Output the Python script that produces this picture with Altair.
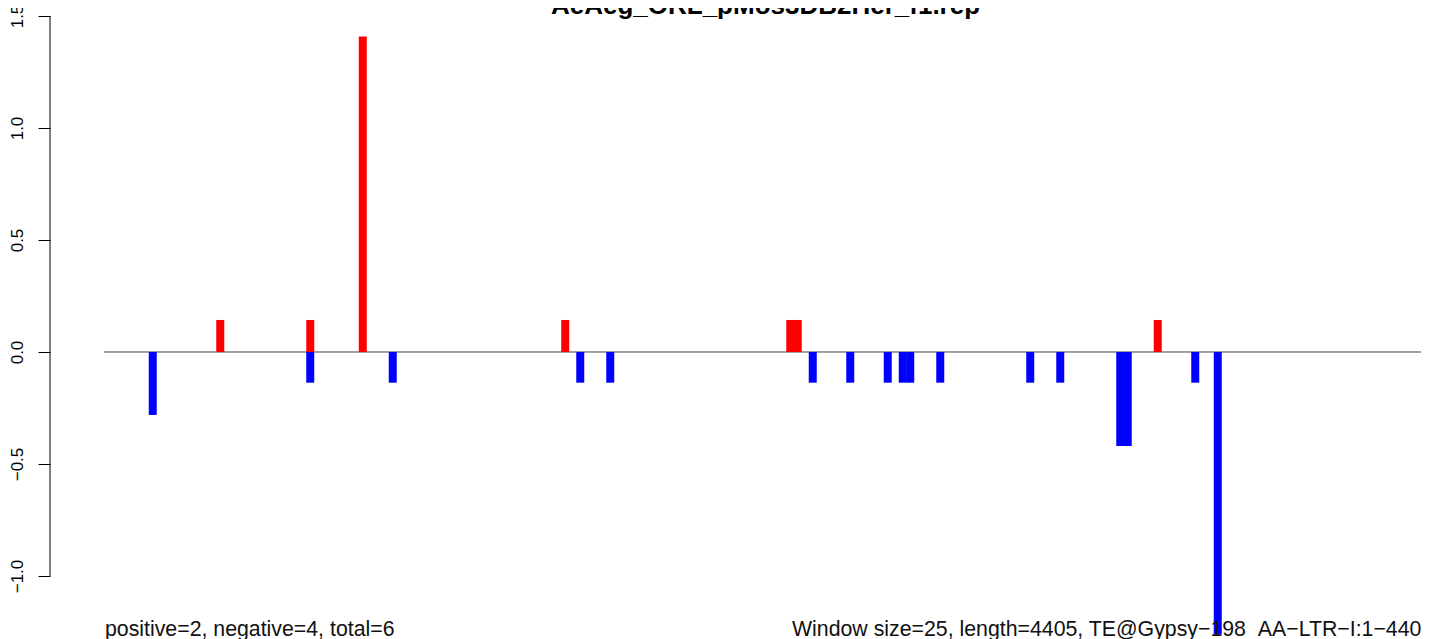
import altair as alt
import pandas as pd

# ---- data ----
title_text = "AeAeg_ORL_pMos3DB2Her_f1.rep"
left_note = "positive=2, negative=4, total=6"
right_note = "Window size=25, length=4405, TE@Gypsy\u2212198_AA\u2212LTR\u2212I:1\u22124405"
window_size = 25
te_length = 4405

bar_window = [6, 15, 27, 27, 34, 38, 61, 63, 67, 91, 92, 94, 99, 104, 106,
              107, 111, 123, 127, 135, 136, 140, 145, 148]
bar_value = [-0.281, 0.143, 0.143, -0.137, 1.408, -0.137, 0.143, -0.137,
             -0.137, 0.143, 0.143, -0.137, -0.137, -0.137, -0.137, -0.137,
             -0.137, -0.137, -0.137, -0.42, -0.42, 0.143, -0.137, -1.26]
y_ticks = [-1.0, -0.5, 0.0, 0.5, 1.0, 1.5]

# ---- scales (plot area layout) ----
X_MIN, X_MAX = -7.2, 175.6
Y_MIN, Y_MAX = -1.2768, 1.5357
W, H = 1371, 630

bars = pd.DataFrame({
    "x": [w + 0.5 for w in bar_window],
    "v": bar_value,
    "zero": [0.0] * len(bar_value),
    "sign": ["pos" if v > 0 else "neg" for v in bar_value],
})

xs = alt.Scale(domain=[X_MIN, X_MAX], nice=False, zero=False)
ys = alt.Scale(domain=[Y_MIN, Y_MAX], nice=False, zero=False)

bar_layer = alt.Chart(bars).mark_rule(strokeWidth=8, strokeCap="butt").encode(
    x=alt.X("x:Q", scale=xs, axis=None),
    y=alt.Y("v:Q", scale=ys, axis=alt.Axis(
        values=y_ticks, format=".1f", domain=False, grid=False,
        tickSize=12, tickColor="black", tickWidth=1,
        labelAngle=270, labelAlign="center", labelBaseline="alphabetic",
        labelPadding=15.5, labelFontSize=17, labelColor="black",
        labelFont="Liberation Sans", labelFlush=False, labelOverlap=False,
        labelBound=False, title=None)),
    y2="zero:Q",
    color=alt.Color("sign:N", scale=alt.Scale(domain=["pos", "neg"],
                                               range=["#FF0000", "#0000FF"]),
                    legend=None),
)

zero_df = pd.DataFrame({"x": [0.0], "x2": [X_MAX], "y": [0.0]})
zero_line = alt.Chart(zero_df).mark_rule(color="#444444", strokeWidth=1).encode(
    x=alt.X("x:Q", scale=xs, axis=None),
    x2="x2:Q",
    y=alt.Y("y:Q", scale=ys),
)

axis_df = pd.DataFrame({"y": [y_ticks[0]], "y2": [y_ticks[-1]]})
axis_line = alt.Chart(axis_df).mark_rule(color="black", strokeWidth=1).encode(
    x=alt.value(0),
    y=alt.Y("y:Q", scale=ys),
    y2="y2:Q",
)

texts = pd.DataFrame({"t": [title_text]})
title_layer = alt.Chart(texts).mark_text(
    font="Liberation Sans", fontWeight="bold", fontSize=26, color="black",
    align="center", baseline="alphabetic",
).encode(x=alt.value(715.5), y=alt.value(6), text="t:N")

left_df = pd.DataFrame({"t": [left_note]})
left_layer = alt.Chart(left_df).mark_text(
    font="Liberation Sans", fontSize=21.3, color="#111111",
    align="left", baseline="alphabetic",
).encode(x=alt.value(55), y=alt.value(628.3), text="t:N")

right_df = pd.DataFrame({"t": [right_note]})
right_layer = alt.Chart(right_df).mark_text(
    font="Liberation Sans", fontSize=21.3, color="#111111",
    align="left", baseline="alphabetic",
).encode(x=alt.value(742), y=alt.value(628.3), text="t:N")

chart = alt.layer(
    zero_line, bar_layer, axis_line, title_layer, left_layer, right_layer
).properties(
    width=W, height=H,
    background="white",
    autosize=alt.AutoSizeParams(type="none"),
    padding={"left": 42, "top": 0, "right": 0, "bottom": 3},
).configure_view(stroke=None)

chart.save("out.html", embed_options={"renderer": "svg", "actions": False})
